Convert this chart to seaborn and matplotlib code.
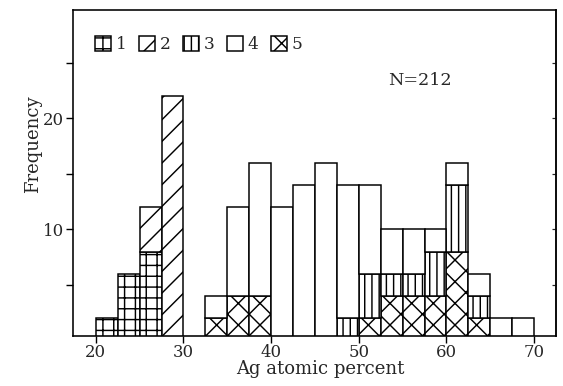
import numpy as np
import pandas as pd
import matplotlib
matplotlib.use("Agg")
import matplotlib.pyplot as plt
import matplotlib.colors as mcolors
from matplotlib.patches import Patch
import seaborn as sns

# ---------------- data ----------------
bin_edges = [20.0, 22.5, 25.0, 27.5, 30.0, 32.5, 35.0, 37.5, 40.0, 42.5, 45.0,
             47.5, 50.0, 52.5, 55.0, 57.5, 60.0, 62.5, 65.0, 67.5, 70.0]
types = ["1", "2", "3", "4", "5"]
count_1 = [2, 6, 8, 0, 0, 0, 0, 0, 0, 0, 0, 0, 0, 0, 0, 0, 0, 0, 0, 0]
count_2 = [0, 0, 4, 22, 0, 0, 0, 0, 0, 0, 0, 0, 0, 0, 0, 0, 0, 0, 0, 0]
count_3 = [0, 0, 0, 0, 0, 0, 0, 0, 0, 0, 0, 2, 4, 2, 2, 4, 6, 2, 0, 0]
count_4 = [0, 0, 0, 0, 0, 2, 8, 12, 12, 14, 16, 12, 8, 4, 4, 2, 2, 2, 2, 2]
count_5 = [0, 0, 0, 0, 0, 2, 4, 4, 0, 0, 0, 0, 2, 4, 4, 4, 8, 2, 0, 0]
x_ticks = [20, 30, 40, 50, 60, 70]
y_ticks = [10, 20]
y_minor_ticks = [5, 15, 25]
x_label = "Ag atomic percent"
y_label = "Frequency"
n_text = "N=212"

counts = {"1": count_1, "2": count_2, "3": count_3, "4": count_4, "5": count_5}
hatches = {"1": "++", "2": "//", "3": "|||", "4": "", "5": "xx"}
# distinct near-white colours only used to identify the hue groups
id_colors = {"1": "#fffff1", "2": "#fffff3", "3": "#fffff5", "4": "#fffff7", "5": "#fffff9"}

rows = []
for t in types:
    for i, c in enumerate(counts[t]):
        if c > 0:
            rows.append({"x": (bin_edges[i] + bin_edges[i + 1]) / 2, "w": c, "type": t})
df = pd.DataFrame(rows)

# ---------------- style ----------------
DPI = 130
sns.set_style("ticks")
plt.rcParams["font.family"] = ["DejaVu Serif"]
plt.rcParams["hatch.linewidth"] = 0.8
plt.rcParams["hatch.color"] = "black"

def px(v):
    return v * 72.0 / DPI

fig = plt.figure(figsize=(563 / DPI, 386 / DPI), dpi=DPI)
ax = fig.add_axes([73 / 563, 1 - 336 / 386, (556 - 73) / 563, (336 - 9.5) / 386])

sns.histplot(data=df, x="x", weights="w", hue="type",
             hue_order=["4", "2", "3", "5", "1"], multiple="stack",
             bins=bin_edges, palette=id_colors, alpha=1, edgecolor="black",
             linewidth=px(1.5), legend=False, ax=ax)

lookup = {tuple(np.round(mcolors.to_rgba(c), 3)): t for t, c in id_colors.items()}
for p in ax.patches:
    t = lookup.get(tuple(np.round(p.get_facecolor(), 3)))
    if t is None:
        continue
    p.set_facecolor("white")
    p.set_edgecolor("black")
    p.set_hatch(hatches[t])
    if p.get_height() == 0:
        p.set_visible(False)

ax.set_xlim(17.4, 72.5)
ax.set_ylim(0.4, 29.8)
ax.set_xticks(x_ticks)
ax.set_yticks(y_ticks)
ax.set_yticks(y_minor_ticks, minor=True)
for s in ax.spines.values():
    s.set_visible(True)
    s.set_linewidth(px(1.6))
    s.set_color("black")
ax.tick_params(axis="both", which="both", direction="out", length=px(7),
               width=px(1.4), color="black", labelsize=px(16.5), pad=px(2))
ax.tick_params(axis="y", which="both", pad=px(2))
ax.tick_params(axis="x", pad=px(1))

sec = ax.secondary_yaxis("right")
sec.set_yticks(y_ticks + y_minor_ticks)
sec.tick_params(direction="in", length=px(4), width=px(1.2), labelright=False)
sec.spines["right"].set_linewidth(px(1.6))

ax.set_xlabel(x_label, fontsize=px(18))
ax.set_ylabel(y_label, fontsize=px(18))
ax.xaxis.set_label_coords(0.513, -0.073)
ax.yaxis.set_label_coords(-0.064, 0.588)

ax.text(53.3, 23.4, n_text, fontsize=px(17.5), va="center", ha="left")

handles = [Patch(facecolor="white", edgecolor="black", hatch=hatches[t],
                 linewidth=px(1.5), label=t) for t in types]
ax.legend(handles=handles, loc="upper left", bbox_to_anchor=(0.046, 0.918),
          ncol=5, frameon=False, fontsize=px(17), handlelength=0.95,
          handleheight=0.95, handletextpad=0.25, columnspacing=0.75,
          borderpad=0, borderaxespad=0)

fig.savefig("out.png", dpi=DPI)
